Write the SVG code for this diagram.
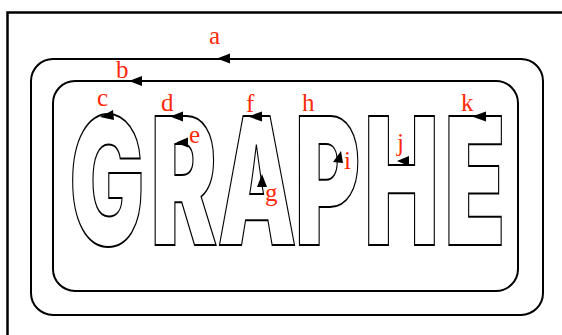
<svg xmlns="http://www.w3.org/2000/svg" width="562" height="335" viewBox="0 0 562 335">
<style>
.frame{fill:none;stroke:#000;stroke-width:2.5}
.box{fill:none;stroke:#000;stroke-width:2}
.let{font-family:"Inter","Liberation Sans",Arial,sans-serif;font-weight:900;font-size:100px;fill:#fff;stroke:#000;stroke-width:1.6;stroke-linejoin:miter;text-anchor:middle}
.lbl{font-family:"Liberation Serif","Times New Roman",serif;font-size:25px;fill:#ff2a0a}
.arr{fill:#000;stroke:none}
</style>
<rect x="0" y="0" width="562" height="335" fill="#fff"/>
<rect class="frame" x="7.5" y="12.5" width="600" height="400"/>
<g id="outer"><rect class="box" x="31" y="59" width="512" height="256" rx="22" ry="22"/></g>
<g id="inner"><rect class="box" x="53" y="81" width="465" height="210" rx="22" ry="22"/></g>
<g id="letters">
<text class="let" vector-effect="non-scaling-stroke" transform="translate(107,245) scale(1,1.774)" x="0" y="0">G</text>
<text class="let" vector-effect="non-scaling-stroke" transform="translate(184,245) scale(1,1.774)" x="0" y="0">R</text>
<text class="let" vector-effect="non-scaling-stroke" transform="translate(257,245) scale(1,1.774)" x="0" y="0">A</text>
<text class="let" vector-effect="non-scaling-stroke" transform="translate(327.5,245) scale(1,1.774)" x="0" y="0">P</text>
<text class="let" vector-effect="non-scaling-stroke" transform="translate(401.5,245) scale(1,1.774)" x="0" y="0">H</text>
<text class="let" vector-effect="non-scaling-stroke" transform="translate(475,245) scale(1,1.774)" x="0" y="0">E</text>
</g>
<g id="connectors">
<polygon class="arr" points="217,58.5 230,53.5 230,63.5"/>
<polygon class="arr" points="129,81 142,76 142,86"/>
<polygon class="arr" points="100,117 113,110 114,120"/>
<polygon class="arr" points="170,116.5 183,111.5 183,121.5"/>
<polygon class="arr" points="176,142.5 188,137.5 188,147.5"/>
<polygon class="arr" points="248,116.5 262,111.5 262,121.5"/>
<polygon class="arr" points="262,174 257,187 267,187"/>
<polygon class="arr" points="341,151 333,162 343,163"/>
<polygon class="arr" points="397,161 409,156 409,166"/>
<polygon class="arr" points="472,116.5 486,111.5 486,121.5"/>
</g>
<g id="labels">
<text class="lbl" x="209" y="44">a</text>
<text class="lbl" x="116" y="78">b</text>
<text class="lbl" x="97" y="106">c</text>
<text class="lbl" x="161" y="111">d</text>
<text class="lbl" x="189" y="143">e</text>
<text class="lbl" x="246" y="112">f</text>
<text class="lbl" x="265" y="201">g</text>
<text class="lbl" x="302" y="111">h</text>
<text class="lbl" x="344" y="169">i</text>
<text class="lbl" x="397" y="151">j</text>
<text class="lbl" x="461" y="111">k</text>
</g>
</svg>
